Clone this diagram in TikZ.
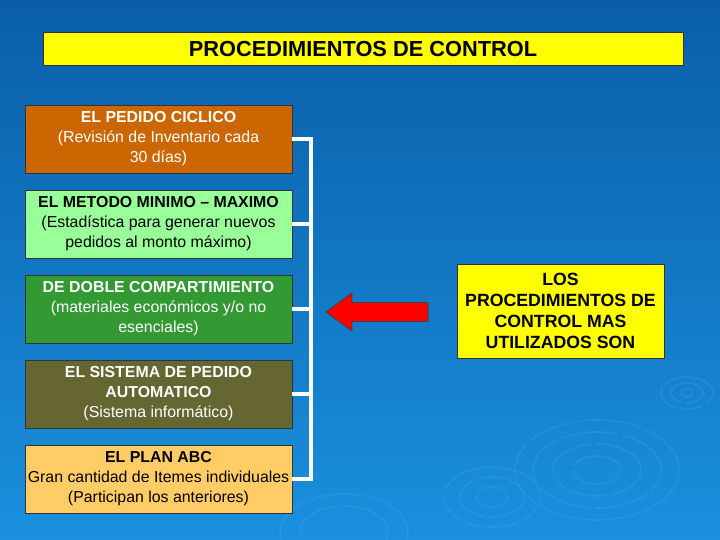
\documentclass[tikz,border=0pt]{standalone}
\usepackage{fontspec}
\setmainfont{Liberation Sans}
\definecolor{FondoArriba}{HTML}{0A5EA8}
\definecolor{FondoAbajo}{HTML}{1A90DE}
\definecolor{ColorCiclico}{HTML}{CC6600}
\definecolor{ColorMinMax}{HTML}{99FF99}
\definecolor{ColorDoble}{HTML}{339933}
\definecolor{ColorAuto}{HTML}{666633}
\definecolor{ColorABC}{HTML}{FFCC66}
\definecolor{ColorTitulo}{HTML}{FFFF00}
\definecolor{ColorOnda}{HTML}{4DB0F0}

\begin{document}
\begin{tikzpicture}[
        caja/.style={draw=black!80, line width=0.6pt, minimum width=6.675cm, minimum height=1.7cm,
            inner sep=1pt, align=center, font=\fontsize{11.3}{14.2}\selectfont},
        amarilla/.style={draw=black!80, line width=0.6pt, fill=ColorTitulo, align=center, inner sep=1pt},
        llave/.style={draw=white, line width=3pt, line join=miter},
        onda/.style={draw=ColorOnda, opacity=0.22, line width=1.2pt, dash pattern=on 40pt off 3pt}]
        \shade[top color=FondoArriba, bottom color=FondoAbajo] (0,0) rectangle (18,-13.5);
        \useasboundingbox (0,0) rectangle (18,-13.5);
        \begin{scope}
            \clip (0,0) rectangle (18,-13.5);
            \draw[onda] (14.925,-11.75) ellipse (2.05 and 1.25) (14.925,-11.75) ellipse (1.6 and 0.95)
                (14.925,-11.75) ellipse (1.1 and 0.65) (14.925,-11.75) ellipse (0.6 and 0.35);
            \draw[onda] (12.3,-12.425) ellipse (1.2 and 0.75) (12.3,-12.425) ellipse (0.8 and 0.5)
                (12.3,-12.425) ellipse (0.4 and 0.25);
            \draw[onda] (17.175,-9.825) ellipse (0.65 and 0.4) (17.175,-9.825) ellipse (0.4 and 0.25)
                (17.175,-9.825) ellipse (0.15 and 0.1);
            \draw[onda] (8.6,-13.3) ellipse (1.6 and 0.95) (8.6,-13.3) ellipse (1.1 and 0.65);
        \end{scope}

        \node[amarilla, minimum width=16cm, minimum height=0.825cm,
            font=\bfseries\fontsize{15.5}{18}\selectfont] (titulo) at (9.075,-1.2125) {PROCEDIMIENTOS DE CONTROL};

        \node[caja, fill=ColorCiclico, text=white] (b1) at (3.9625,-3.475)
            {\textbf{EL PEDIDO CICLICO}\\(Revisión de Inventario cada\\30 días)};
        \node[caja, fill=ColorMinMax, text=black] (b2) at (3.9625,-5.6)
            {\textbf{EL METODO MINIMO – MAXIMO}\\(Estadística para generar nuevos\\pedidos al monto máximo)};
        \node[caja, fill=ColorDoble, text=white] (b3) at (3.9625,-7.725)
            {\textbf{DE DOBLE COMPARTIMIENTO}\\(materiales económicos y/o no\\esenciales)};
        \node[caja, fill=ColorAuto, text=white] (b4) at (3.9625,-9.85)
            {\textbf{EL SISTEMA DE PEDIDO}\\\textbf{AUTOMATICO}\\(Sistema informático)};
        \node[caja, fill=ColorABC, text=black] (b5) at (3.9625,-11.975)
            {\textbf{EL PLAN ABC}\\Gran cantidad de Itemes individuales\\(Participan los anteriores)};

        \coordinate (barra) at (7.775,0);
        \draw[llave] (b1.east) -- (b1.east -| barra) -- (b5.east -| barra) -- (b5.east);
        \draw[llave] (b2.east) -- (b2.east -| barra);
        \draw[llave] (b3.east) -- (b3.east -| barra);
        \draw[llave] (b4.east) -- (b4.east -| barra);

        \node[amarilla, minimum width=5.175cm, minimum height=2.35cm,
            font=\bfseries\fontsize{12.6}{14.9}\selectfont] (los) at (14.0125,-7.775)
            {LOS\\PROCEDIMIENTOS DE\\CONTROL MAS\\UTILIZADOS SON};

        \coordinate (punta) at (8.15,-7.8);
        \draw[fill=red, draw=black!75, line width=0.6pt] (punta) -- ++(0.65,0.475) -- ++(0,-0.2375)
            -- ++(1.9,0) -- ++(0,-0.475) -- ++(-1.9,0) -- ++(0,-0.2375) -- cycle;
    \end{tikzpicture}
\end{document}
